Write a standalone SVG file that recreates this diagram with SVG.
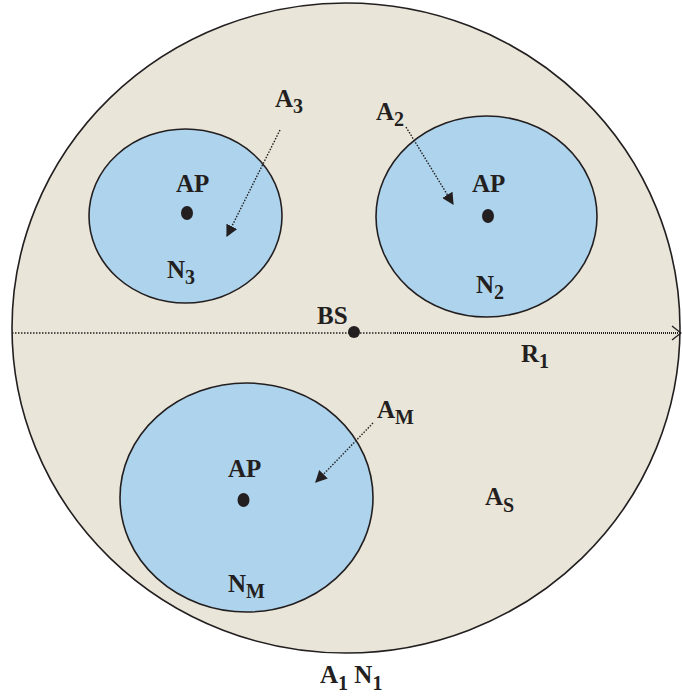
<svg xmlns="http://www.w3.org/2000/svg" width="682" height="700" viewBox="0 0 682 700">
<defs>
<style>
.area{fill:#e9e5d8;stroke:#231f20;stroke-width:1.6}
.cell{fill:#aed3ed;stroke:#231f20;stroke-width:1.6}
.dot{fill:#231f20}
text{font-family:"Liberation Serif","Times New Roman",serif;font-weight:bold;font-size:25px;fill:#231f20}
.sub{font-size:20px}
.ptr{stroke:#231f20;stroke-width:1.4;stroke-dasharray:1.5 1.5;fill:none;marker-end:url(#tri)}
</style>
<marker id="tri" viewBox="0 0 10 10" refX="9" refY="5" markerWidth="12" markerHeight="12" markerUnits="userSpaceOnUse" orient="auto">
<path d="M0,0 L10,5 L0,10 Z" fill="#231f20"/>
</marker>
</defs>
<rect width="682" height="700" fill="#ffffff"/>
<g id="area">
<ellipse class="area" cx="346" cy="328" rx="334" ry="325"/>
<text x="485" y="505">A<tspan class="sub" dy="7">S</tspan></text>
<text x="320" y="683">A<tspan class="sub" dy="7">1</tspan><tspan dy="-7"> N</tspan><tspan class="sub" dy="7">1</tspan></text>
</g>
<g id="n3">
<ellipse class="cell" cx="185.5" cy="216" rx="96.5" ry="87"/>
<ellipse class="dot" cx="187" cy="213" rx="6" ry="7"/>
<text x="176" y="192">AP</text>
<text x="167" y="278">N<tspan class="sub" dy="6">3</tspan></text>
</g>
<g id="n2">
<ellipse class="cell" cx="486.5" cy="216.5" rx="110.5" ry="100.5"/>
<ellipse class="dot" cx="488" cy="216" rx="6" ry="7"/>
<text x="472" y="192">AP</text>
<text x="476" y="293">N<tspan class="sub" dy="6">2</tspan></text>
</g>
<g id="nm">
<ellipse class="cell" cx="246.5" cy="497.5" rx="126.5" ry="114.5"/>
<ellipse class="dot" cx="243.5" cy="500" rx="6" ry="7"/>
<text x="228" y="477">AP</text>
<text x="228" y="592">N<tspan class="sub" dy="6">M</tspan></text>
</g>
<g id="bs">
<circle class="dot" cx="354" cy="332" r="6"/>
<text x="317" y="324">BS</text>
</g>
<g id="connectors">
<line x1="12" y1="333" x2="395" y2="333" stroke="#231f20" stroke-width="1.4" stroke-dasharray="1.5 1.5"/>
<line x1="395" y1="333" x2="680" y2="333" stroke="#231f20" stroke-width="2" stroke-dasharray="1 1"/>
<path d="M672,326 L681,333 L672,340" fill="none" stroke="#231f20" stroke-width="1.4"/>
<line class="ptr" x1="280" y1="130" x2="227" y2="236"/>
<line class="ptr" x1="406" y1="127" x2="453" y2="204"/>
<line class="ptr" x1="373" y1="423" x2="316" y2="482"/>
</g>
<g id="labels">
<text x="275" y="107">A<tspan class="sub" dy="6">3</tspan></text>
<text x="376" y="120">A<tspan class="sub" dy="6">2</tspan></text>
<text x="377" y="418">A<tspan class="sub" dy="6">M</tspan></text>
<text x="521" y="362">R<tspan class="sub" dy="6">1</tspan></text>
</g>
</svg>
